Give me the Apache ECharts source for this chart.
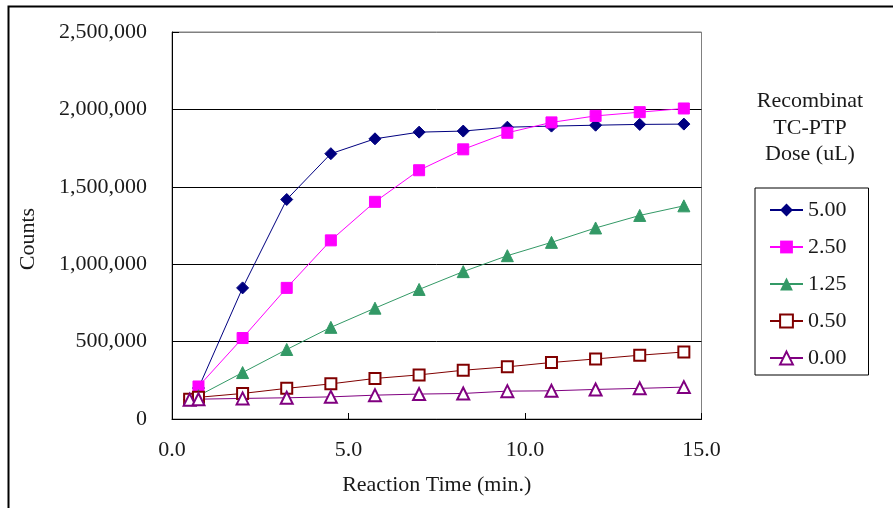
<!DOCTYPE html>
<html>
<head>
<meta charset="utf-8">
<script src="https://cdn.jsdelivr.net/npm/echarts@6/dist/echarts.min.js"></script>
<style>
html,body{margin:0;padding:0;background:#fff;}
#chart{width:893px;height:508px;}
</style>
</head>
<body>
<div id="chart"></div>
<script>
// ---- data ----
const reactionTime = [0.5, 0.75, 2, 3.25, 4.5, 5.75, 7, 8.25, 9.5, 10.75, 12, 13.25, 14.5];
const doseNames = ['5.00', '2.50', '1.25', '0.50', '0.00'];
const dose500 = [125000, 200000, 847000, 1418000, 1714000, 1810000, 1853000, 1860000, 1885000, 1892000, 1898000, 1903000, 1905000];
const dose250 = [125000, 210000, 523000, 847000, 1154000, 1403000, 1607000, 1742000, 1849000, 1916000, 1958000, 1982000, 2006000];
const dose125 = [125000, 150000, 300000, 449000, 592000, 716000, 837000, 952000, 1055000, 1141000, 1234000, 1315000, 1377000];
const dose050 = [128000, 140000, 165000, 198000, 227000, 262000, 285000, 315000, 337000, 365000, 388000, 412000, 433000];
const dose000 = [125000, 128000, 133000, 137000, 143000, 154000, 161000, 165000, 180000, 182000, 191000, 198000, 206000];
const xTicks = [0, 5, 10, 15];
const yTicks = [0, 500000, 1000000, 1500000, 2000000, 2500000];

const FONT = '"Liberation Serif", "DejaVu Serif", serif';
const TXT = '#1a1a1a';

function pairs(vals) { return reactionTime.map((t, i) => [t, vals[i]]); }

const seriesDefs = [
  { name: doseNames[0], vals: dose500, color: '#000080', symbol: 'diamond', size: 12 },
  { name: doseNames[1], vals: dose250, color: '#FF00FF', symbol: 'rect', size: 11 },
  { name: doseNames[2], vals: dose125, color: '#339966', symbol: 'triangle', size: 12 },
  { name: doseNames[3], vals: dose050, color: '#800000', symbol: 'emptyRect', size: 11 },
  { name: doseNames[4], vals: dose000, color: '#800080', symbol: 'emptyTriangle', size: 12 }
];

const chart = echarts.init(document.getElementById('chart'), null, { renderer: 'canvas' });
chart.setOption({
  animation: false,
  backgroundColor: '#fff',
  grid: {
    left: 172, right: 191.5, top: 32, bottom: 89,
    show: true, borderColor: '#808080', borderWidth: 1, backgroundColor: 'transparent'
  },
  xAxis: {
    type: 'value',
    min: xTicks[0], max: xTicks[xTicks.length - 1], interval: 5,
    axisLine: { show: true, onZero: false, lineStyle: { color: '#000', width: 1 } },
    axisTick: { show: true, inside: true, length: 6, lineStyle: { color: '#000' } },
    splitLine: { show: false },
    axisLabel: {
      margin: 20, color: TXT, fontFamily: FONT, fontSize: 22,
      formatter: v => v.toFixed(1)
    },
    name: 'Reaction Time (min.)',
    nameLocation: 'middle', nameGap: 55,
    nameTextStyle: { color: TXT, fontFamily: FONT, fontSize: 22 }
  },
  yAxis: {
    type: 'value',
    min: yTicks[0], max: yTicks[yTicks.length - 1], interval: 500000,
    axisLine: { show: true, lineStyle: { color: '#000', width: 1 } },
    axisTick: { show: true, inside: true, length: 7, lineStyle: { color: '#000' } },
    splitLine: { show: true, lineStyle: { color: ['#000', '#000', '#000', '#000', '#000', '#808080'], width: 1 } },
    axisLabel: {
      margin: 25, color: TXT, fontFamily: FONT, fontSize: 22,
      formatter: v => v.toLocaleString('en-US')
    }
  },
  legend: {
    orient: 'vertical',
    left: 755, top: 188,
    padding: [11, 22, 6, 14],
    itemGap: 15,
    itemWidth: 33, itemHeight: 16,
    borderColor: '#000', borderWidth: 1,
    textStyle: { color: TXT, fontFamily: FONT, fontSize: 22, lineHeight: 22 },
    data: doseNames
  },
  graphic: [
    { type: 'rect', left: 6, top: 4, shape: { width: 1000, height: 1000 }, style: { fill: 'none', stroke: '#000', lineWidth: 2 }, silent: true, z: -10 },
    { type: 'text', x: 810, y: 88, style: { text: 'Recombinat\nTC-PTP\nDose (uL)', fill: TXT, font: '22px ' + FONT, textAlign: 'center', lineHeight: 26.5 } },
    { type: 'text', x: 28, y: 239, rotation: Math.PI / 2, style: { text: 'Counts', fill: TXT, font: '22px ' + FONT, textAlign: 'center', textVerticalAlign: 'middle' } }
  ],
  series: seriesDefs.map(s => ({
    name: s.name,
    type: 'line',
    data: pairs(s.vals),
    symbol: s.symbol,
    symbolSize: s.size,
    showAllSymbol: true,
    lineStyle: { color: s.color, width: 1 },
    itemStyle: { color: s.color, borderColor: s.color },
    emphasis: { disabled: true }
  }))
});
</script>
</body>
</html>
